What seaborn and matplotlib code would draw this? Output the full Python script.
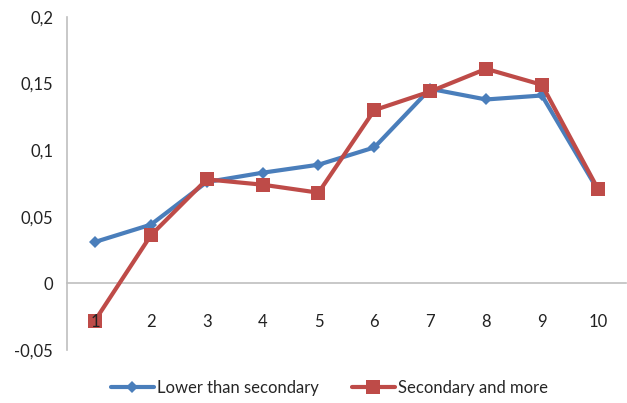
import numpy as np
import pandas as pd
import seaborn as sns
import matplotlib.pyplot as plt
from matplotlib.ticker import FuncFormatter

sns.set_style("white")
plt.rcParams['font.family'] = ['Lato', 'DejaVu Sans']

# ============================================
# DATA
# ============================================
deciles = [1, 2, 3, 4, 5, 6, 7, 8, 9, 10]
lower_than_secondary = [0.031, 0.044, 0.076, 0.083, 0.089, 0.102, 0.146, 0.138, 0.141, 0.070]
secondary_and_more = [-0.028, 0.036, 0.078, 0.074, 0.068, 0.130, 0.144, 0.161, 0.149, 0.071]
series_names = ["Lower than secondary", "Secondary and more"]

df = pd.DataFrame({
    "decile": deciles * 2,
    "value": lower_than_secondary + secondary_and_more,
    "group": [series_names[0]] * len(deciles) + [series_names[1]] * len(deciles),
})

# ============================================
# PLOT
# ============================================
fig = plt.figure(figsize=(6.27, 4.03), dpi=100)
ax = fig.add_axes([0.107, 0.132, 0.891, 0.826])

palette = {series_names[0]: "#4A7EBB", series_names[1]: "#BE4B48"}
sns.lineplot(data=df, x="decile", y="value", hue="group", style="group",
             markers={series_names[0]: "D", series_names[1]: "s"},
             dashes=False, palette=palette, linewidth=3,
             markersize=8, markeredgewidth=0, ax=ax)
# smaller diamond for blue
for line in ax.lines:
    if line.get_marker() == "D":
        line.set_markersize(6.5)
    else:
        line.set_markersize(10)

ax.set_xlim(0.5, 10.5)
ax.set_ylim(-0.05, 0.2)
ax.set_xticks(deciles)
ax.set_yticks([-0.05, 0, 0.05, 0.1, 0.15, 0.2])
ax.yaxis.set_major_formatter(FuncFormatter(
    lambda v, p: "0" if abs(v) < 1e-9 else f"{v:g}".replace(".", ",")))
ax.set_xlabel("")
ax.set_ylabel("")
# tick labels drawn above the lines (the "1" shows over the red square)
ax.set_axisbelow(False)

for s in ["top", "right"]:
    ax.spines[s].set_visible(False)
ax.spines["bottom"].set_position(("data", 0))
ax.spines["bottom"].set_color("#BFBFBF")
ax.spines["left"].set_color("#BFBFBF")
ax.spines["bottom"].set_linewidth(1.2)
ax.spines["left"].set_linewidth(1.2)
ax.spines["bottom"].set_zorder(1)
ax.spines["left"].set_zorder(1)
ax.tick_params(axis="x", length=0, pad=22, labelsize=12, colors="#222222")
ax.tick_params(axis="y", length=0, pad=10, labelsize=12, colors="#222222")

handles, labels = ax.get_legend_handles_labels()
ax.legend_.remove()
fig.legend(handles, labels, loc="center", bbox_to_anchor=(0.525, 0.037), ncol=2,
           frameon=False, fontsize=12, handlelength=2.6, columnspacing=2.0,
           handletextpad=0.15)

plt.savefig("out.png", dpi=100)
plt.close()
